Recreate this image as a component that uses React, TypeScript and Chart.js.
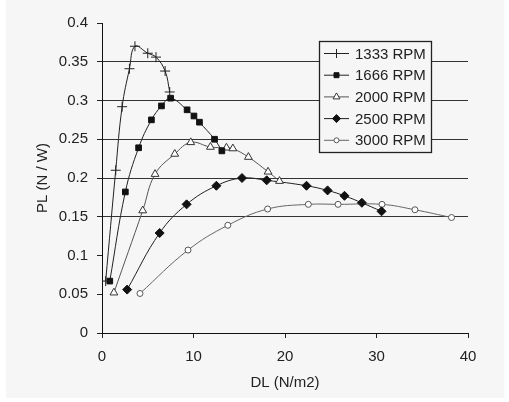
import React, { useEffect, useRef } from "react";
import { Chart, registerables } from "chart.js";
import { drawPoint } from "chart.js/helpers";
Chart.register(...registerables);

// ---- data ----
const seriesNames = ["1333 RPM", "1666 RPM", "2000 RPM", "2500 RPM", "3000 RPM"];

const dl1333 = [0.4, 1.5, 2.2, 3.0, 3.6, 5.0, 5.9, 6.9, 7.4];
const pl1333 = [0.067, 0.21, 0.292, 0.341, 0.37, 0.361, 0.356, 0.338, 0.311];

const dl1666 = [0.85, 2.55, 4.0, 5.4, 6.5, 7.5, 9.3, 10.05, 10.65, 12.3, 13.1];
const pl1666 = [0.067, 0.182, 0.239, 0.275, 0.293, 0.303, 0.288, 0.28, 0.272, 0.25, 0.235];

const dl2000 = [1.3, 4.45, 5.8, 7.95, 9.7, 11.85, 13.6, 14.3, 16.0, 18.15, 19.4];
const pl2000 = [0.052, 0.158, 0.205, 0.231, 0.246, 0.24, 0.239, 0.238, 0.227, 0.208, 0.196];

const dl2500 = [2.75, 6.3, 9.25, 12.5, 15.3, 18.0, 22.35, 24.65, 26.5, 28.4, 30.55];
const pl2500 = [0.056, 0.129, 0.166, 0.19, 0.2, 0.197, 0.19, 0.184, 0.177, 0.168, 0.157];

const dl3000 = [4.15, 9.4, 13.75, 18.1, 22.55, 25.8, 30.6, 34.2, 38.2];
const pl3000 = [0.051, 0.107, 0.139, 0.16, 0.166, 0.166, 0.166, 0.159, 0.149];

const yTickValues = [0, 0.05, 0.1, 0.15, 0.2, 0.25, 0.3, 0.35, 0.4];
const yTickLabels = ["0", "0.05", "0.1", "0.15", "0.2", "0.25", "0.3", "0.35", "0.4"];
const xTickValues = [0, 10, 20, 30, 40];
const xTickLabels = ["0", "10", "20", "30", "40"];
const gridValues = [0.15, 0.2, 0.25, 0.3, 0.35];

// ---- styles ----
const FONT = "'Liberation Sans', Arial, sans-serif";
const BG = "#f6f6f6";
const TEXT = "#222";

const styles = [
  { line: "#222", style: "cross", radius: 5, fill: "#222", stroke: "#222" },
  { line: "#222", style: "rect", radius: 4, fill: "#111", stroke: "#111" },
  { line: "#555", style: "triangle", radius: 4.5, fill: "#ffffff", stroke: "#333" },
  { line: "#222", style: "rectRot", radius: 4.5, fill: "#111", stroke: "#111" },
  { line: "#666", style: "circle", radius: 3, fill: "#ffffff", stroke: "#555" },
];

const seriesX = [dl1333, dl1666, dl2000, dl2500, dl3000];
const seriesY = [pl1333, pl1666, pl2000, pl2500, pl3000];

const bgPlugin = {
  id: "bgFill",
  beforeDraw(chart: any) {
    const ctx = chart.ctx;
    ctx.save();
    ctx.fillStyle = "#ffffff";
    ctx.fillRect(0, 0, chart.width, chart.height);
    ctx.fillStyle = BG;
    ctx.fillRect(6, 0, 498, 398);
    ctx.restore();
  },
};

const legendPlugin = {
  id: "boxLegend",
  afterDatasetsDraw(chart: any) {
    const ctx = chart.ctx;
    const bx = 319.5, by = 41.5, bw = 112, bh = 111;
    ctx.save();
    ctx.fillStyle = BG;
    ctx.fillRect(bx, by, bw, bh);
    ctx.strokeStyle = "#222";
    ctx.lineWidth = 1.3;
    ctx.strokeRect(bx, by, bw, bh);
    chart.data.datasets.forEach((ds: any, i: number) => {
      const y = 53.5 + i * 21.7;
      const st = styles[i];
      ctx.strokeStyle = st.line;
      ctx.lineWidth = 1;
      ctx.beginPath();
      ctx.moveTo(324, y);
      ctx.lineTo(349, y);
      ctx.stroke();
      ctx.fillStyle = st.fill;
      ctx.strokeStyle = st.stroke;
      ctx.lineWidth = 1;
      drawPoint(ctx, { pointStyle: st.style, radius: st.radius - 0.5, rotation: 0, borderWidth: 1 } as any, 336.5, y);
      ctx.fillStyle = TEXT;
      ctx.font = `15px ${FONT}`;
      ctx.textBaseline = "middle";
      ctx.textAlign = "left";
      ctx.fillText(ds.label, 355, y + 1);
    });
    ctx.restore();
  },
};

export default function App() {
  const ref = useRef<HTMLCanvasElement | null>(null);
  useEffect(() => {
    document.body.style.margin = "0";
    const canvas = ref.current!;
    const datasets = seriesNames.map((name, i) => ({
      label: name,
      data: seriesX[i].map((x, j) => ({ x, y: seriesY[i][j] })),
      borderColor: styles[i].line,
      backgroundColor: styles[i].fill,
      borderWidth: 1,
      tension: 0.4,
      pointStyle: styles[i].style,
      pointRadius: styles[i].radius,
      pointBorderColor: styles[i].stroke,
      pointBackgroundColor: styles[i].fill,
      pointBorderWidth: 1,
      fill: false,
    }));
    const chart = new Chart(canvas, {
      type: "line",
      data: { datasets },
      plugins: [bgPlugin, legendPlugin],
      options: {
        animation: false,
        responsive: false,
        layout: { padding: { top: 23, right: 41, left: 0, bottom: 0 } },
        plugins: { legend: { display: false }, tooltip: { enabled: false } },
        scales: {
          x: {
            type: "linear",
            min: 0,
            max: 40,
            afterBuildTicks: (s: any) => {
              s.ticks = xTickValues.map((v) => ({ value: v }));
            },
            afterFit: (s: any) => {
              s.height = 69;
            },
            ticks: {
              callback: (_v: any, i: number) => xTickLabels[i],
              font: { family: FONT, size: 15 },
              color: TEXT,
              padding: 10,
              maxRotation: 0,
            },
            grid: {
              drawOnChartArea: false,
              tickLength: 5,
              color: "#222",
              tickColor: "#222",
            },
            border: { color: "#111", width: 1 },
            title: {
              display: true,
              text: "DL (N/m2)",
              font: { family: FONT, size: 15 },
              color: TEXT,
              padding: { top: 0, bottom: 10 },
            },
          },
          y: {
            type: "linear",
            min: 0,
            max: 0.4,
            afterBuildTicks: (s: any) => {
              s.ticks = yTickValues.map((v) => ({ value: v }));
            },
            afterFit: (s: any) => {
              s.width = 102;
            },
            ticks: {
              callback: (_v: any, i: number) => yTickLabels[i],
              font: { family: FONT, size: 15 },
              color: TEXT,
              padding: 9,
            },
            grid: {
              tickLength: 5,
              lineWidth: 1,
              color: (c: any) =>
                gridValues.some((g) => Math.abs(g - c.tick.value) < 1e-9) ? "#333" : "rgba(0,0,0,0)",
              tickColor: "#222",
            },
            border: { color: "#111", width: 1 },
            title: {
              display: true,
              text: "PL (N / W)",
              font: { family: FONT, size: 15 },
              color: TEXT,
              padding: { top: 34, bottom: 0 },
            },
          },
        },
      } as any,
    });
    return () => chart.destroy();
  }, []);
  return <canvas ref={ref} width={509} height={402} style={{ display: "block" }} />;
}
